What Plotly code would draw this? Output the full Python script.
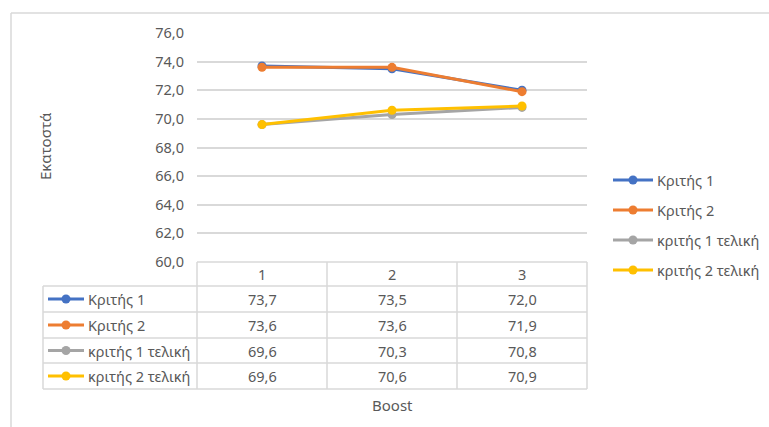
import plotly.graph_objects as go

# Data
boost = [1, 2, 3]
series_names = ["Κριτής 1", "Κριτής 2", "κριτής 1 τελική", "κριτής 2 τελική"]
kritis_1 = [73.7, 73.5, 72.0]
kritis_2 = [73.6, 73.6, 71.9]
kritis_1_teliki = [69.6, 70.3, 70.8]
kritis_2_teliki = [69.6, 70.6, 70.9]
series_values = [kritis_1, kritis_2, kritis_1_teliki, kritis_2_teliki]
colors = ["#4472C4", "#ED7D31", "#A5A5A5", "#FFC000"]

W, H = 769, 427
FONT = "Noto Sans"
FS = 14.5
TXT = "#595959"
GRID = "#D9D9D9"


def px(x):
    return x / W


def py(y):
    return 1 - y / H


fmt = lambda v: f"{v:.1f}".replace(".", ",")

# plot area in pixels
X0, X1 = 197, 587
Y_TOP, Y_BOT = 33, 262

fig = go.Figure()
for name, vals, c in zip(series_names, series_values, colors):
    fig.add_trace(go.Scatter(
        x=boost, y=vals, name=name, mode="lines+markers",
        line=dict(color=c, width=3), marker=dict(color=c, size=9),
        showlegend=False,
    ))

shapes = []
annotations = []


def key(x_left, x_right, cy, c):
    # line-with-marker legend key
    xm = (x_left + x_right) / 2
    shapes.append(dict(type="line", xref="paper", yref="paper", x0=px(x_left), x1=px(x_right),
                       y0=py(cy), y1=py(cy), line=dict(color=c, width=3)))
    shapes.append(dict(type="circle", xref="paper", yref="paper", x0=px(xm - 4.5), x1=px(xm + 4.5),
                       y0=py(cy + 4.5), y1=py(cy - 4.5), fillcolor=c, line=dict(color=c, width=0)))


def text(x, y, s, anchor="center", size=FS, angle=0):
    annotations.append(dict(x=px(x), y=py(y), xref="paper", yref="paper", xanchor=anchor,
                            yanchor="middle", text=s, showarrow=False, textangle=angle,
                            font=dict(family=FONT, size=size, color=TXT)))


# outer chart frame
shapes.append(dict(type="line", xref="paper", yref="paper", x0=px(11), x1=px(769),
                   y0=py(13), y1=py(13), line=dict(color=GRID, width=1.5)))
shapes.append(dict(type="line", xref="paper", yref="paper", x0=px(11), x1=px(11),
                   y0=py(13), y1=py(427), line=dict(color=GRID, width=1.5)))

# data table below the plot
row_y = [262, 286, 312, 338, 363, 389]
col_x = [43, 197, 327, 457, 587]
tline = dict(color=GRID, width=1.5)
shapes.append(dict(type="line", xref="paper", yref="paper", x0=px(col_x[1]), x1=px(col_x[-1]),
                   y0=py(row_y[0]), y1=py(row_y[0]), line=tline))
for yy in row_y[1:]:
    shapes.append(dict(type="line", xref="paper", yref="paper", x0=px(col_x[0]), x1=px(col_x[-1]),
                       y0=py(yy), y1=py(yy), line=tline))
for xx in col_x:
    top = row_y[1] if xx == col_x[0] else row_y[0]
    shapes.append(dict(type="line", xref="paper", yref="paper", x0=px(xx), x1=px(xx),
                       y0=py(top), y1=py(row_y[-1]), line=tline))

for i, b in enumerate(boost):
    text((col_x[i + 1] + col_x[i + 2]) / 2, (row_y[0] + row_y[1]) / 2, str(b))

for r, (name, vals, c) in enumerate(zip(series_names, series_values, colors)):
    cy = (row_y[r + 1] + row_y[r + 2]) / 2
    key(48, 84, cy, c)
    text(86, cy, name, anchor="left")
    for i, v in enumerate(vals):
        text((col_x[i + 1] + col_x[i + 2]) / 2, cy, fmt(v))

# legend on the right
for r, (name, c) in enumerate(zip(series_names, colors)):
    cy = 180 + r * 30
    key(613, 653, cy, c)
    text(655, cy, name, anchor="left")

# axis titles
text(45, 146, "Εκατοστά", size=15, angle=-90)
text(392, 405, "Boost", size=15)

fig.update_layout(
    template="none",
    width=W, height=H, margin=dict(l=0, r=0, t=0, b=0, autoexpand=False),
    paper_bgcolor="white", plot_bgcolor="white",
    separators=",.",
    font=dict(family=FONT, size=FS, color=TXT),
    showlegend=False,
    xaxis=dict(domain=[px(X0), px(X1)], range=[0.5, 3.5], showticklabels=False, automargin=False,
               showgrid=False, zeroline=False, showline=False, ticks="", fixedrange=True),
    yaxis=dict(domain=[py(Y_BOT), py(Y_TOP)], range=[60, 76], dtick=2, tickformat=".1f",
               automargin=False, showgrid=True, gridcolor=GRID, gridwidth=1.5, zeroline=False,
               showline=False, ticks="", ticklabelstandoff=12,
               tickfont=dict(family=FONT, size=FS, color=TXT)),
    shapes=shapes, annotations=annotations,
)

fig.write_html("out.html")
